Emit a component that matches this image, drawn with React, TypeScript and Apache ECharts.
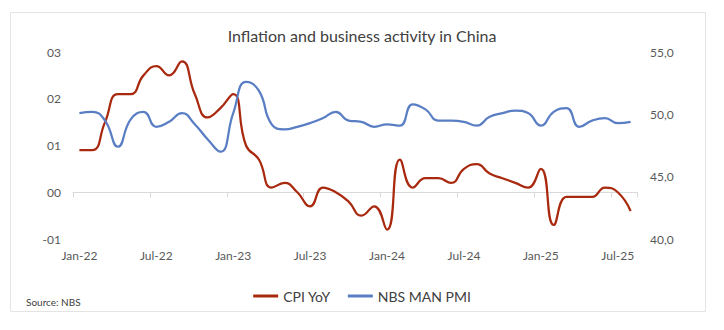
import React, { useEffect, useRef } from "react";
import * as echarts from "echarts";

const months = [
  "Jan-22","Feb-22","Mar-22","Apr-22","May-22","Jun-22","Jul-22","Aug-22","Sep-22","Oct-22","Nov-22","Dec-22",
  "Jan-23","Feb-23","Mar-23","Apr-23","May-23","Jun-23","Jul-23","Aug-23","Sep-23","Oct-23","Nov-23","Dec-23",
  "Jan-24","Feb-24","Mar-24","Apr-24","May-24","Jun-24","Jul-24","Aug-24","Sep-24","Oct-24","Nov-24","Dec-24",
  "Jan-25","Feb-25","Mar-25","Apr-25","May-25","Jun-25","Jul-25","Aug-25",
];

const cpiYoY = [
  0.9, 0.9, 1.5, 2.1, 2.1, 2.5, 2.7, 2.5, 2.8, 2.1, 1.6, 1.8,
  2.1, 1.0, 0.7, 0.1, 0.2, 0.0, -0.3, 0.1, 0.0, -0.2, -0.5, -0.3,
  -0.8, 0.7, 0.1, 0.3, 0.3, 0.2, 0.5, 0.6, 0.4, 0.3, 0.2, 0.1,
  0.5, -0.7, -0.1, -0.1, -0.1, 0.1, 0.0, -0.4,
];

const nbsManPmi = [
  50.1, 50.2, 49.5, 47.4, 49.6, 50.2, 49.0, 49.4, 50.1, 49.2, 48.0, 47.0,
  50.1, 52.6, 51.9, 49.2, 48.8, 49.0, 49.3, 49.7, 50.2, 49.5, 49.4, 49.0,
  49.2, 49.1, 50.8, 50.4, 49.5, 49.5, 49.4, 49.1, 49.8, 50.1, 50.3, 50.1,
  49.1, 50.2, 50.5, 49.0, 49.5, 49.7, 49.3, 49.4,
];

const seriesNames = ["CPI YoY", "NBS MAN PMI"];
const titleText = "Inflation and business activity in China";
const sourceText = "Source: NBS";

const FONT = "Lato, 'Open Sans', sans-serif";
const TEXT = "#404040";

export default function App() {
  const ref = useRef<HTMLDivElement>(null);
  useEffect(() => {
    if (!ref.current) return;
    const chart = echarts.init(ref.current, null, { renderer: "svg" });
    chart.setOption({
      animation: false,
      backgroundColor: "#ffffff",
      textStyle: { fontFamily: FONT },
      title: {
        text: titleText,
        left: "center",
        top: 22,
        textStyle: { fontFamily: FONT, fontSize: 16, fontWeight: "normal", color: TEXT },
      },
      graphic: [
        {
          type: "rect",
          shape: { x: 10.5, y: 12.5, width: 695, height: 299 },
          style: { fill: "none", stroke: "#e4e4e4", lineWidth: 1 },
          silent: true,
        },
        {
          type: "text",
          x: 26,
          y: 302,
          style: { text: sourceText, fontFamily: FONT, fontSize: 10, fill: TEXT, verticalAlign: "middle" },
        },
      ],
      legend: {
        data: seriesNames,
        left: "center",
        top: 284,
        itemWidth: 25,
        itemHeight: 3,
        itemGap: 17,
        icon: "rect",
        textStyle: { fontFamily: FONT, fontSize: 14, color: TEXT },
      },
      grid: { left: 73, right: 87, top: 52, bottom: 91 },
      xAxis: {
        type: "category",
        data: months,
        boundaryGap: true,
        axisLine: { onZero: true, lineStyle: { color: "#d9d9d9", width: 1 } },
        axisTick: { show: true, interval: 5, length: 5, lineStyle: { color: "#d9d9d9" } },
        axisLabel: { interval: 5, margin: 10, color: "#595959", fontSize: 12, fontFamily: FONT },
        splitLine: { show: false },
      },
      yAxis: [
        {
          type: "value",
          min: -1,
          max: 3,
          interval: 1,
          position: "left",
          axisLine: { show: false },
          axisTick: { show: false },
          splitLine: { show: false },
          axisLabel: {
            margin: 12,
            color: "#595959",
            fontSize: 12,
            fontFamily: FONT,
            formatter: (v: number) => (v < 0 ? "-0" + Math.abs(v) : "0" + v),
          },
        },
        {
          type: "value",
          min: 40,
          max: 55,
          interval: 5,
          position: "right",
          axisLine: { show: false },
          axisTick: { show: false },
          splitLine: { show: false },
          axisLabel: {
            margin: 13,
            color: "#595959",
            fontSize: 12,
            fontFamily: FONT,
            formatter: (v: number) => v.toFixed(1).replace(".", ","),
          },
        },
      ],
      series: [
        {
          name: seriesNames[0],
          type: "line",
          yAxisIndex: 0,
          data: cpiYoY,
          smooth: 0.5,
          symbol: "none",
          lineStyle: { color: "#A9290F", width: 2.25 },
          itemStyle: { color: "#A9290F" },
        },
        {
          name: seriesNames[1],
          type: "line",
          yAxisIndex: 1,
          data: nbsManPmi,
          smooth: 0.5,
          symbol: "none",
          lineStyle: { color: "#5A7EC3", width: 2.25 },
          itemStyle: { color: "#5A7EC3" },
        },
      ],
    });
    return () => chart.dispose();
  }, []);
  return (
    <div
      ref={ref}
      style={{ position: "fixed", left: 0, top: 0, width: 724, height: 330 }}
    />
  );
}
